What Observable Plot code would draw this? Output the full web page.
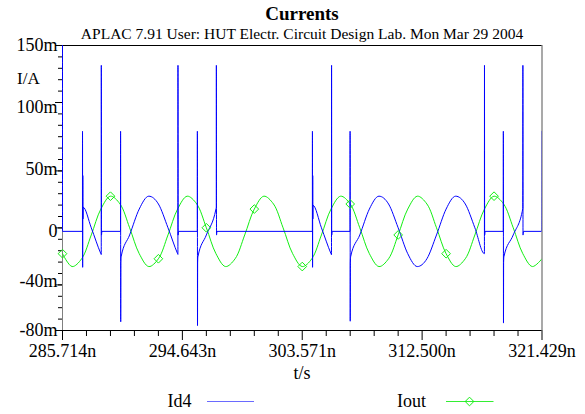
<!DOCTYPE html>
<html><head><meta charset="utf-8">
<script src="https://cdn.jsdelivr.net/npm/d3@7"></script>
<script src="https://cdn.jsdelivr.net/npm/@observablehq/plot@0.6"></script>
<style>
html,body{margin:0;padding:0;background:#fff;}
#chart{width:585px;height:414px;}
#chart svg, #chart svg text { font-family: "Liberation Serif", "DejaVu Serif", "Times New Roman", Times, serif !important; }
</style></head><body><div id="chart"></div>
<script>
const title = "Currents";
const subtitle = "APLAC 7.91 User: HUT Electr. Circuit Design Lab. Mon Mar 29 2004";
const yAxisLabel = "I/A";
const xAxisLabel = "t/s";
const seriesNames = ["Id4", "Iout"];
const seriesColors = ["#0000ff", "#11ee11"];

const xDomain = [285.714, 321.429];
const yDomain = [-80, 150];
const xMajorTicks = [285.714, 294.643, 303.571, 312.500, 321.429];
const xMajorLabels = ["285.714n", "294.643n", "303.571n", "312.500n", "321.429n"];
const xMinorTicks = [287.500, 289.286, 291.071, 292.857, 296.429, 298.214, 300.000, 301.786,
  305.357, 307.143, 308.929, 310.714, 314.286, 316.071, 317.857, 319.643];
const yLabelValues = [150, 100, 50, 0, -40, -80];
const yLabels = ["150m", "100m", "50m", "0", "-40m", "-80m"];
const yMinorTicks = [-80, -70.8, -61.6, -52.4, -43.2, -34, -24.8, -15.6, -6.4, 2.8, 12, 21.2, 30.4,
  39.6, 48.8, 58, 67.2, 76.4, 85.6, 94.8, 104, 113.2, 122.4, 131.6, 140.8, 150];
const yMajorTicks = [150, 104, 48.8, 2.8, -43.2, -80];

// Iout (green), in mA, time in ns
const ioutT = [285.714, 286.428, 287.143, 287.857, 288.571, 289.286, 290.000, 290.714, 291.429, 292.143,
  292.857, 293.571, 294.286, 295.000, 295.714, 296.429, 297.143, 297.857, 298.571, 299.286,
  300.000, 300.714, 301.429, 302.143, 302.857, 303.571, 304.286, 305.000, 305.714, 306.429,
  307.143, 307.857, 308.571, 309.286, 310.000, 310.714, 311.429, 312.143, 312.857, 313.571,
  314.286, 315.000, 315.714, 316.429, 317.143, 317.857, 318.571, 319.286, 320.000, 320.714, 321.429];
const ioutV = [-18.0, -28.4, -22.1, -2.9, 18.0, 28.4, 22.1, 2.9,
  -18.0, -28.4, -22.1, -2.9, 18.0, 28.4, 22.1, 2.9,
  -18.0, -28.4, -22.1, -2.9, 18.0, 28.4, 22.1, 2.9,
  -18.0, -28.4, -22.1, -2.9, 18.0, 28.4, 22.1, 2.9,
  -18.0, -28.4, -22.1, -2.9, 18.0, 28.4, 22.1, 2.9,
  -18.0, -28.4, -22.1, -2.9, 18.0, 28.4, 22.1, 2.9,
  -18.0, -28.4, -22.1];
const ioutMarkerT = [285.714, 289.286, 292.857, 296.429, 300.000, 303.571, 307.143, 310.714, 314.286, 317.857];
const ioutMarkerV = [-18.0, 28.4, -22.1, 2.9, 18.0, -28.4, 22.1, -2.9, -18.0, 28.4];

// Id4 (blue), in mA, time in ns
const id4T = [285.714, 285.716, 287.200, 287.205, 287.215, 287.225, 287.235, 287.250, 287.857, 288.571, 288.600, 288.605, 288.615, 288.650,
  290.035, 290.040, 290.050, 290.060, 290.080, 290.714, 291.429, 292.143, 292.857, 293.571, 294.286, 294.310, 294.315, 294.325, 294.360,
  295.755, 295.760, 295.770, 295.780, 295.800, 296.429, 297.143, 297.170, 297.175, 297.185, 297.220,
  304.325, 304.330, 304.340, 304.350, 304.360, 304.370, 305.000, 305.714, 305.750, 305.755, 305.765, 305.800,
  307.130, 307.135, 307.145, 307.155, 307.175, 307.857, 308.571, 309.286, 310.000, 310.714, 311.429, 312.143, 312.857, 313.571,
  314.286, 315.000, 315.714, 316.429, 317.140, 317.145, 317.155, 317.190,
  318.545, 318.550, 318.560, 318.570, 318.590, 319.286, 320.000, 320.005, 320.015, 320.050,
  321.400, 321.425];
const id4V = [150, 0, 0, 80.8, -29, 45, 10, 19.5, 2.9, -18.0, -18.7, 134, -3, 0,
  0, 80.8, -73, -25, -20.5, -2.9, 18.0, 28.4, 22.1, 2.9, -18.0, -18.6, 134, -3, 0,
  0, 80.8, -76, -25, -20.5, -2.9, 18.0, 19.5, 134, -3, 0,
  0, 80.8, -29, 45, 10, 21, 2.9, -18.0, -18.9, 134, -3, 0,
  0, 80.8, -72.5, -25, -20.5, -2.9, 18.0, 28.4, 22.1, 2.9, -18.0, -28.4, -22.1, -2.9,
  18.0, 28.4, 22.1, 2.9, -18.0, 134, -3, 0,
  0, 80.8, -74, -25, -20.5, -2.9, 18.5, 134, -3, 0,
  0, 80.8];

const ioutData = ioutT.map((t, i) => ({t, v: ioutV[i]}));
const ioutMarkers = ioutMarkerT.map((t, i) => ({t, v: ioutMarkerV[i]}));
const id4Data = id4T.map((t, i) => ({t, v: id4V[i]}));

const FONT = '"Liberation Serif", "DejaVu Serif", "Times New Roman", Times, serif';

const plot = Plot.plot({
  width: 585, height: 414,
  marginLeft: 62, marginRight: 43.5, marginTop: 45, marginBottom: 84,
  x: {domain: xDomain, label: null},
  y: {domain: yDomain, label: null},
  style: {fontFamily: FONT, fontSize: "18px", background: "white", color: "black"},
  marks: [
    Plot.ruleX([xDomain[0]], {stroke: "#808080"}),
    Plot.ruleX([xDomain[1]], {stroke: "#8c8c8c", strokeWidth: 1.5}),
    Plot.ruleY([yDomain[1]], {stroke: "black"}),
    Plot.ruleY([yDomain[0]], {stroke: "black"}),
    Plot.axisY(yMinorTicks, {tickSize: 4, tickFormat: () => "", label: null}),
    Plot.axisY(yMajorTicks, {tickSize: 7, tickFormat: () => "", label: null}),
    Plot.axisX(xMinorTicks, {tickSize: 6, tickFormat: () => "", label: null}),
    Plot.axisX(xMajorTicks, {tickSize: 10, tickFormat: () => "", label: null}),
    Plot.text(yLabelValues, {y: d => d, text: (d, i) => yLabels[i], frameAnchor: "left", textAnchor: "end", dx: -5, fontSize: 18}),
    Plot.text(xMajorTicks, {x: d => d, text: (d, i) => xMajorLabels[i], frameAnchor: "bottom", dy: 26.5, fontSize: 18}),
    Plot.line(ioutData, {x: "t", y: "v", stroke: seriesColors[1], strokeWidth: 1, curve: "catmull-rom", clip: true}),
    Plot.line(id4Data, {x: "t", y: "v", stroke: seriesColors[0], strokeWidth: 1, curve: "monotone-x", clip: true}),
    Plot.dot(ioutMarkers, {x: "t", y: "v", symbol: "diamond2", r: 3.9, stroke: seriesColors[1], fill: "none", strokeWidth: 1})
  ]
});

const svg = d3.select(plot);
svg.append("text").attr("x", 302).attr("y", 20).attr("text-anchor", "middle")
  .attr("font-size", 19).attr("font-weight", "bold").text(title);
svg.append("text").attr("x", 302).attr("y", 39).attr("text-anchor", "middle")
  .attr("font-size", 15.5).text(subtitle);
svg.append("text").attr("x", 17).attr("y", 84).attr("text-anchor", "start")
  .attr("font-size", 17).text(yAxisLabel);
svg.append("text").attr("x", 302).attr("y", 379).attr("text-anchor", "middle")
  .attr("font-size", 18).text(xAxisLabel);

// legend
const leg = svg.append("g").attr("font-size", 18);
leg.append("text").attr("x", 167.5).attr("y", 406.5).attr("text-anchor", "start").text(seriesNames[0]);
leg.append("line").attr("x1", 207).attr("x2", 254).attr("y1", 401.5).attr("y2", 401.5)
  .attr("stroke", "#6a6aff").attr("stroke-width", 1.2);
leg.append("text").attr("x", 397).attr("y", 406.5).attr("text-anchor", "start").text(seriesNames[1]);
leg.append("line").attr("x1", 446).attr("x2", 493.5).attr("y1", 401.5).attr("y2", 401.5)
  .attr("stroke", "#33ee33").attr("stroke-width", 1.2);
leg.append("path").attr("d", d3.symbol(d3.symbolDiamond2, Math.PI * 3.9 * 3.9)())
  .attr("transform", "translate(469.5,401.5)").attr("fill", "none").attr("stroke", seriesColors[1]);

document.getElementById("chart").appendChild(plot);
</script></body></html>
